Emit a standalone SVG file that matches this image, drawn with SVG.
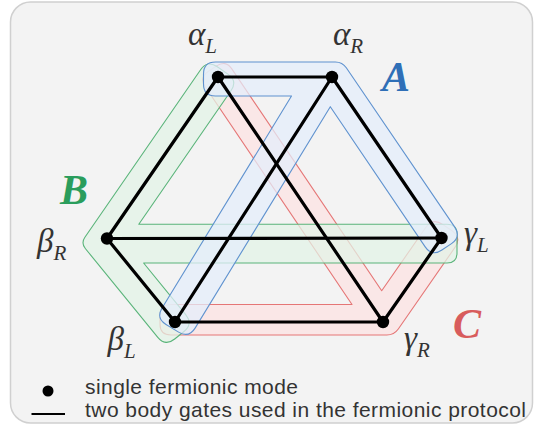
<svg xmlns="http://www.w3.org/2000/svg" width="539" height="430" viewBox="0 0 539 430">
<style>
.band{stroke-width:1.1;stroke-linejoin:round}
.bandA{fill:rgb(228,238,251);fill-opacity:0.74;stroke:#5f92cf}
.bandB{fill:rgb(227,243,231);fill-opacity:0.74;stroke:#5ab47a}
.bandC{fill:rgb(252,227,227);fill-opacity:0.74;stroke:#e57676}
.edge{stroke:#000;stroke-width:3.2;stroke-linecap:round;fill:none}
.dot{fill:#000}
.lbl{font-family:"Liberation Serif","DejaVu Serif",serif;font-style:italic;fill:#333}
.big{font-size:33px}
.sub{font-size:21px}
.grp{font-family:"Liberation Serif","DejaVu Serif",serif;font-style:italic;font-weight:bold;font-size:42px}
.leg{font-family:"Liberation Sans",Arial,sans-serif;font-size:21px;fill:#333}
</style>
<rect x="0" y="0" width="539" height="430" fill="#ffffff"/>
<rect id="panel" x="10.5" y="2" width="522" height="421" rx="20" ry="20" fill="#f3f3f3" stroke="#d0d0d0" stroke-width="1.5"/>

<g id="bands">
<path id="band-C" class="band bandC" d="M 208.2,71.5 L 216.6,65.9 Q 225.7,59.8 231.8,68.9 L 381.7,290.7 L 425.9,227.3 Q 432.8,217.5 442.6,224.4 L 452.0,230.8 Q 461.8,237.7 454.9,247.5 L 398.3,329.0 Q 394.1,335 386.8,335 L 171,335 Q 160,335 160,324 L 160,315.5 Q 160,304.5 171,304.5 L 352,304.5 L 205.2,86.7 Q 199.1,77.6 208.2,71.5 Z"/>
<path id="band-B" class="band bandB" d="M 217.3,66.7 L 227.9,74.1 Q 237.8,80.9 231.0,90.8 L 138.8,224.3 L 447,224.3 Q 457,224.3 457,234.3 L 457,253 Q 457,263 447,263 L 143.6,263 L 185.7,314.6 Q 193.3,323.9 184.0,331.5 L 174.7,339.0 Q 165.4,346.6 157.8,337.3 L 85.3,248.5 Q 80.9,243.1 84.9,237.3 L 200.6,69.8 Q 207.4,59.9 217.3,66.7 Z"/>
<path id="band-A" class="band bandA" d="M 215.5,62 L 335.4,62 Q 342.4,62 346.3,67.8 L 454.6,226.9 Q 461.4,236.8 451.5,243.6 L 441.9,250.0 Q 432.0,256.8 425.2,246.9 L 330.3,106.7 L 195.1,328.1 Q 188.8,338.3 178.6,332.1 L 166.0,324.5 Q 155.8,318.2 162.1,308.0 L 291.5,96 L 215.5,96 Q 203.5,96 203.5,84 L 203.5,74 Q 203.5,62 215.5,62 Z"/>
<text id="label-A" class="grp" x="382" y="90.5" fill="#2f6fb7">A</text>
<text id="label-B" class="grp" x="60" y="204" fill="#2a9d5c">B</text>
<text id="label-C" class="grp" x="453" y="337.5" fill="#d85c5c">C</text>
</g>

<g id="connectors">
<line class="edge" x1="218" y1="77" x2="332" y2="77"/>
<line class="edge" x1="218" y1="77" x2="107" y2="238.5"/>
<line class="edge" x1="218" y1="77" x2="383" y2="322"/>
<line class="edge" x1="332" y1="77" x2="175" y2="322"/>
<line class="edge" x1="332" y1="77" x2="441.5" y2="238"/>
<line class="edge" x1="107" y1="238.5" x2="441.5" y2="238"/>
<line class="edge" x1="107" y1="238.5" x2="175" y2="322"/>
<line class="edge" x1="175" y1="322" x2="383" y2="322"/>
<line class="edge" x1="441.5" y1="238" x2="383" y2="322"/>
</g>

<g id="node-alphaL"><circle class="dot" cx="218" cy="77" r="6.2"/><text class="lbl" x="188" y="45"><tspan class="big">α</tspan><tspan class="sub" dy="8.3">L</tspan></text></g>
<g id="node-alphaR"><circle class="dot" cx="332" cy="77" r="6.2"/><text class="lbl" x="333" y="45"><tspan class="big">α</tspan><tspan class="sub" dy="8.3">R</tspan></text></g>
<g id="node-betaR"><circle class="dot" cx="107" cy="238.5" r="6.2"/><text class="lbl" x="37" y="252"><tspan class="big">β</tspan><tspan class="sub" dy="8">R</tspan></text></g>
<g id="node-gammaL"><circle class="dot" cx="441.5" cy="238" r="6.2"/><text class="lbl" x="464" y="244"><tspan class="big">γ</tspan><tspan class="sub" dy="7.7">L</tspan></text></g>
<g id="node-betaL"><circle class="dot" cx="175" cy="322" r="6.2"/><text class="lbl" x="107.5" y="350"><tspan class="big">β</tspan><tspan class="sub" dy="8.3">L</tspan></text></g>
<g id="node-gammaR"><circle class="dot" cx="383" cy="322" r="6.2"/><text class="lbl" x="404" y="348.5"><tspan class="big">γ</tspan><tspan class="sub" dy="8.2">R</tspan></text></g>

<g id="legend">
<circle class="dot" cx="48" cy="391" r="5.5"/>
<text class="leg" x="85" y="393.5" textLength="213" lengthAdjust="spacing">single fermionic mode</text>
<line x1="31.5" y1="414" x2="65" y2="414" stroke="#000" stroke-width="1.8"/>
<text class="leg" x="85" y="417" textLength="441" lengthAdjust="spacing">two body gates used in the fermionic protocol</text>
</g>
</svg>
